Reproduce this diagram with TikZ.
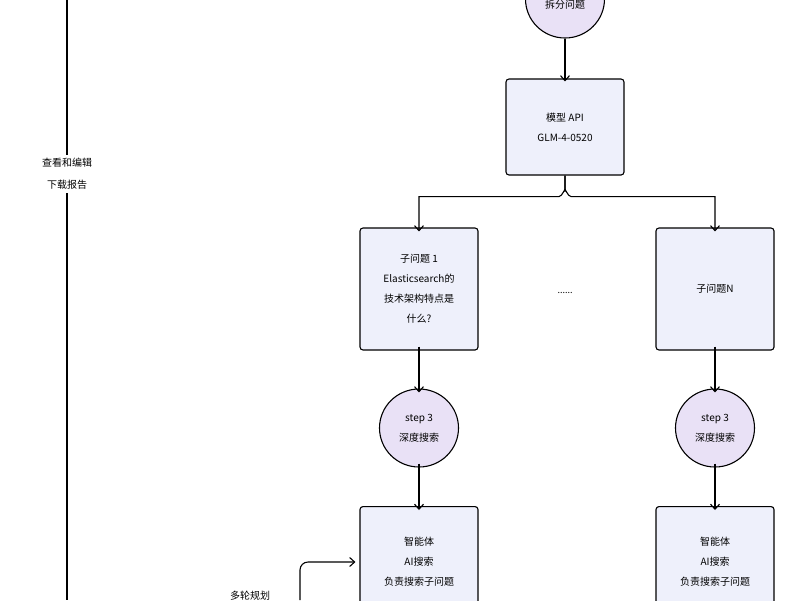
\documentclass[tikz,border=0pt]{standalone}
\usepackage{fontspec}
\setmainfont{Noto Sans CJK SC}
\usetikzlibrary{arrows.meta}
\definecolor{boxf}{HTML}{EEF0FB}
\definecolor{circf}{HTML}{E9E1F6}
\begin{document}
\begin{tikzpicture}[x=1pt,y=-1pt,
  box/.style={draw, line width=1.1pt, rounded corners=3pt, fill=boxf, minimum width=118pt, align=center, font=\fontsize{10}{20}\selectfont},
  circ/.style={draw, line width=1.1pt, ellipse, fill=circf, minimum width=79pt, minimum height=78pt, align=center, font=\fontsize{10}{20}\selectfont, inner sep=0pt},
  arr/.style={line width=1.1pt, -{Straight Barb[length=5pt,width=9pt]}},
  lbl/.style={font=\fontsize{10}{22}\selectfont, align=center}]
\useasboundingbox (0,0) rectangle (800,600);
\usetikzlibrary{shapes.geometric}
\node[circ, ellipse] (c0) at (565,-1) {\\拆分问题};
\node[box, minimum height=96pt] (api) at (565,127) {模型 API\\GLM-4-0520};
\node[box, minimum height=122pt] (q1) at (419,289) {子问题 1\\Elasticsearch的\\技术架构特点是\\什么?};
\node[box, minimum height=122pt] (qn) at (715,289) {子问题N};
\node[font=\fontsize{9}{10}\selectfont] (dots) at (565,293) {......};
\node[circ] (s1) at (419,428) {step 3\\深度搜索};
\node[circ] (sn) at (715,428) {step 3\\深度搜索};
\node[box, minimum height=110pt, anchor=north] (a1) at (419,506) {智能体\\AI搜索\\负责搜索子问题};
\node[box, minimum height=110pt, anchor=north] (an) at (715,506) {智能体\\AI搜索\\负责搜索子问题};
\node[lbl] (edit) at (67,174) {查看和编辑\\下载报告};
\node[lbl, anchor=north] (multi) at (250,588) {多轮规划};
\coordinate (top) at (67,0);
\coordinate (bot) at (67,600);
\coordinate (loop) at (300,600);
\draw[line width=1.1pt] (top) -- (edit.north);
\draw[line width=1.1pt] (edit.south) -- (bot);
\draw[arr] (c0) -- ([yshift=-3pt]api.north);
\draw[arr] (api.south) -- ++(0,15) to[out=90,in=0] ++(-6,6) -| ([yshift=-4pt]q1.north);
\draw[arr] (api.south) -- ++(0,15) to[out=90,in=180] ++(6,6) -| ([yshift=-4pt]qn.north);
\draw[arr] ([yshift=4pt]q1.south) -- ([yshift=-4pt]s1.north);
\draw[arr] ([yshift=4pt]qn.south) -- ([yshift=-4pt]sn.north);
\draw[arr] ([yshift=4pt]s1.south) -- ([yshift=-4pt]a1.north);
\draw[arr] ([yshift=4pt]sn.south) -- ([yshift=-4pt]an.north);
\draw[arr, rounded corners=8pt] (loop) |- ([xshift=-4pt]a1.west |- 0,562);
\end{tikzpicture}
\end{document}
